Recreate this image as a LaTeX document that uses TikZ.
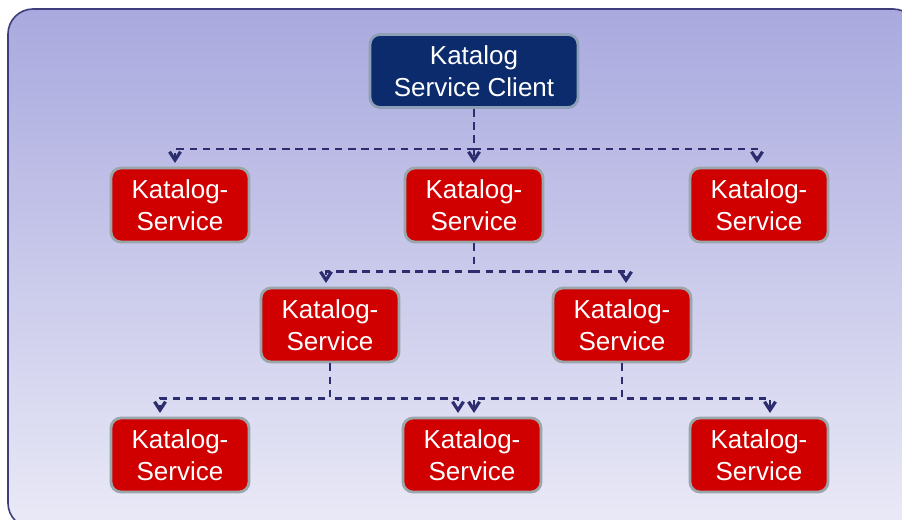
\documentclass[tikz,border=0pt]{standalone}
\usepackage{fontspec}
\setmainfont{Liberation Sans}
\usetikzlibrary{arrows.meta,calc,positioning}
\definecolor{bgtop}{HTML}{A9A9DF}
\definecolor{bgbottom}{HTML}{EAEAF7}
\definecolor{bgrim}{HTML}{3E3E7C}
\definecolor{kred}{HTML}{D10000}
\definecolor{knavy}{HTML}{0B2B6C}
\definecolor{redrim}{HTML}{9AA6AA}
\definecolor{navyrim}{HTML}{8C9FB6}
\definecolor{klink}{HTML}{2C2C6E}

\begin{document}
\begin{tikzpicture}[x=0.5pt,y=-0.5pt,
  servicebox/.style={draw=redrim,line width=1.4pt,fill=kred,rounded corners=5pt,
    text=white,align=center,minimum width=69pt,minimum height=37pt,inner sep=0pt,
    font=\fontsize{13}{16}\selectfont},
  clientbox/.style={servicebox,fill=knavy,draw=navyrim,minimum width=104pt,minimum height=36.5pt},
  link/.style={draw=klink,line width=1.35pt,dash pattern=on 3.8pt off 2.8pt,shorten >=1.8pt,
    -{Straight Barb[length=4.2pt,width=5.5pt,line width=1.6pt]}}]
  \useasboundingbox (0,0) rectangle (902,520);
  \clip (0,0) rectangle (902,520);
  % background panel
  \shade[top color=bgtop,bottom color=bgbottom,rounded corners=12.5pt]
    (8,9) rectangle (918,528);
  \draw[bgrim,line width=0.8pt,rounded corners=12.5pt] (8,9) rectangle (918,528);

  % client and services
  \node[clientbox] (client) at (474,71) {Katalog\\Service Client};
  \node[servicebox] (ks1) at (180,205) {Katalog-\\Service};
  \node[servicebox] (ks2) at (474,205) {Katalog-\\Service};
  \node[servicebox] (ks3) at (759,205) {Katalog-\\Service};
  \node[servicebox] (ks4) at (330,325) {Katalog-\\Service};
  \node[servicebox] (ks5) at (622,325) {Katalog-\\Service};
  \node[servicebox] (ks6) at (180,455) {Katalog-\\Service};
  \node[servicebox] (ks7) at (472,455) {Katalog-\\Service};
  \node[servicebox] (ks8) at (759,455) {Katalog-\\Service};

  % links
  \draw[link] (client.south) -- ++(0,40) -| ([xshift=-2.5pt]ks1.north);
  \draw[link] (client.south) -- (ks2.north);
  \draw[link] (client.south) -- ++(0,40) -| ([xshift=-1pt]ks3.north);
  \draw[link] (ks2.south) -- ++(0,28) -| ([xshift=-2pt]ks4.north);
  \draw[link] (ks2.south) -- ++(0,28) -| ([xshift=2pt]ks5.north);
  \draw[link] (ks4.south) -- ++(0,35) -| ([xshift=-10pt]ks6.north);
  \draw[link] (ks4.south) -- ++(0,35) -| ([xshift=-7pt]ks7.north);
  \draw[link] (ks5.south) -- ++(0,35) -| ([xshift=1pt]ks7.north);
  \draw[link] (ks5.south) -- ++(0,35) -| ([xshift=5.5pt]ks8.north);
\end{tikzpicture}
\end{document}
